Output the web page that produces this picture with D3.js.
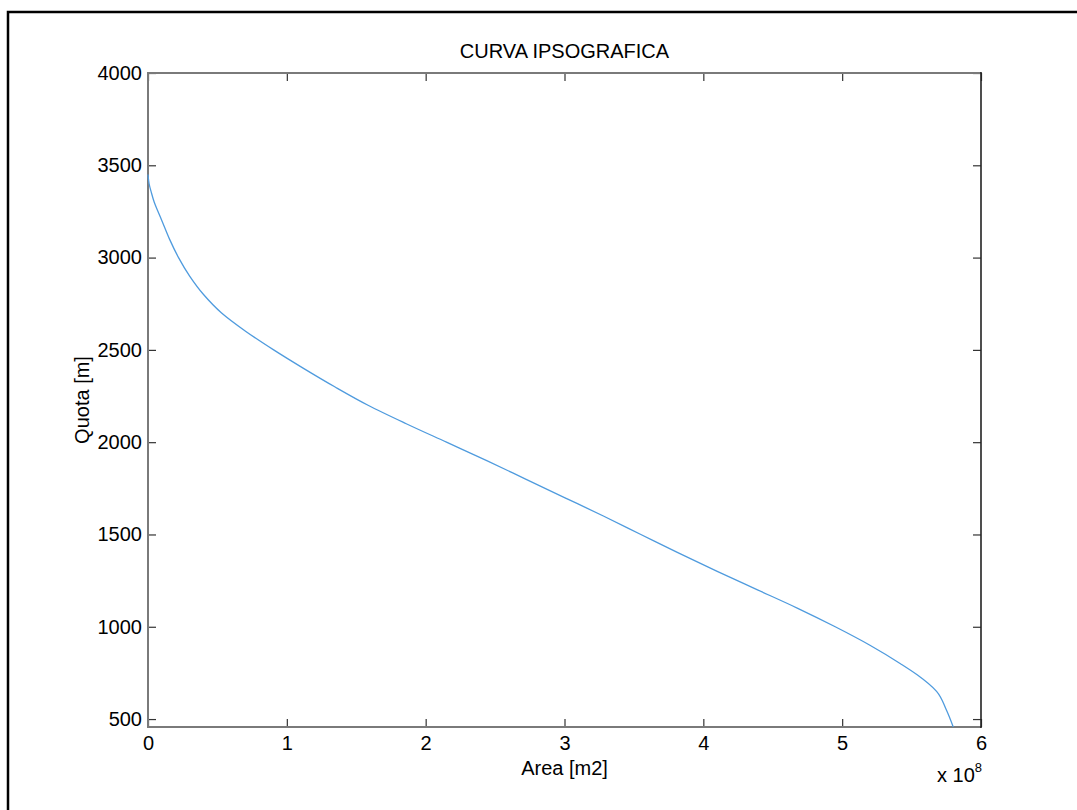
<!DOCTYPE html>
<html>
<head>
<meta charset="utf-8">
<script src="https://cdn.jsdelivr.net/npm/d3@7"></script>
<style>
  html, body { margin: 0; padding: 0; background: #fff; overflow: hidden; }
  svg { display: block; font-family: "Liberation Sans", Arial, sans-serif; }
</style>
</head>
<body>
<svg id="canvas"></svg>
<script>
// hypsographic curve: elevation [m] vs cumulative area above it [m2]
const quota = [3450, 3400, 3350, 3300, 3250, 3200, 3100, 3000, 2900, 2800, 2700,
  2600, 2500, 2400, 2300, 2200, 2100, 2000, 1900, 1800, 1700, 1600, 1500, 1400,
  1300, 1200, 1100, 1000, 900, 800, 740, 650, 550, 457];
const area = [0, 0.008e8, 0.025e8, 0.045e8, 0.072e8, 0.10e8, 0.155e8, 0.22e8, 0.30e8,
  0.40e8, 0.53e8, 0.705e8, 0.905e8, 1.12e8, 1.345e8, 1.585e8, 1.86e8, 2.15e8, 2.44e8,
  2.72e8, 3.0e8, 3.28e8, 3.55e8, 3.82e8, 4.1e8, 4.39e8, 4.68e8, 4.95e8, 5.2e8,
  5.42e8, 5.54e8, 5.68e8, 5.75e8, 5.80e8];

const xTicks = [0, 1e8, 2e8, 3e8, 4e8, 5e8, 6e8];
const yTicks = [500, 1000, 1500, 2000, 2500, 3000, 3500, 4000];

const width = 1077;
const height = 810;
const plot = { left: 148, right: 981, top: 73, bottom: 727 };
const fontSize = 20;

const svg = d3.select('#canvas').attr('width', width).attr('height', height);

// figure frame (left and top edges)
svg.append('path')
  .attr('d', `M8,${height}V12H${width}`)
  .attr('fill', 'none').attr('stroke', '#000').attr('stroke-width', 2.5);

const x = d3.scaleLinear().domain([0, 6e8]).range([plot.left, plot.right]);
const y = d3.scaleLinear().domain([d3.min(quota), 4000]).range([plot.bottom, plot.top]);

const styleAxis = (g) => {
  g.select('.domain').remove();
  g.selectAll('.tick line').attr('stroke', '#333').attr('stroke-width', 1.2);
  g.selectAll('.tick text').attr('fill', '#000').attr('font-size', fontSize)
    .attr('font-family', '"Liberation Sans", Arial, sans-serif');
};

svg.append('g')
  .attr('transform', `translate(0,${plot.bottom})`)
  .call(d3.axisBottom(x).tickValues(xTicks).tickFormat((d) => d / 1e8)
    .tickSizeInner(-8).tickSizeOuter(0).tickPadding(9))
  .call(styleAxis);

svg.append('g')
  .attr('transform', `translate(0,${plot.top})`)
  .call(d3.axisTop(x).tickValues(xTicks).tickFormat('')
    .tickSizeInner(-8).tickSizeOuter(0))
  .call(styleAxis);

svg.append('g')
  .attr('transform', `translate(${plot.left},0)`)
  .call(d3.axisLeft(y).tickValues(yTicks).tickFormat(d3.format('d'))
    .tickSizeInner(-8).tickSizeOuter(0).tickPadding(6))
  .call(styleAxis);

svg.append('g')
  .attr('transform', `translate(${plot.right},0)`)
  .call(d3.axisRight(y).tickValues(yTicks).tickFormat('')
    .tickSizeInner(-8).tickSizeOuter(0))
  .call(styleAxis);

// axes box
svg.append('path')
  .attr('d', `M${plot.right},${plot.top}H${plot.left}V${plot.bottom}H${plot.right}`)
  .attr('fill', 'none').attr('stroke', '#7a7a7a').attr('stroke-width', 2);
svg.append('line')
  .attr('x1', plot.right).attr('x2', plot.right)
  .attr('y1', plot.top - 1).attr('y2', plot.bottom + 1)
  .attr('stroke', '#222').attr('stroke-width', 1.6);

// curve
const line = d3.line()
  .x((d, i) => x(area[i]))
  .y((d) => y(d))
  .curve(d3.curveMonotoneY);

svg.append('path')
  .datum(quota)
  .attr('d', line)
  .attr('fill', 'none')
  .attr('stroke', '#4f9bde')
  .attr('stroke-width', 1.3);

// labels
svg.append('text')
  .attr('x', (plot.left + plot.right) / 2).attr('y', 58)
  .attr('text-anchor', 'middle').attr('font-size', fontSize)
  .text('CURVA IPSOGRAFICA');

svg.append('text')
  .attr('x', (plot.left + plot.right) / 2).attr('y', 775)
  .attr('text-anchor', 'middle').attr('font-size', fontSize)
  .text('Area [m2]');

svg.append('text')
  .attr('transform', `translate(89,${(plot.top + plot.bottom) / 2}) rotate(-90)`)
  .attr('text-anchor', 'middle').attr('font-size', fontSize)
  .text('Quota [m]');

const exp = svg.append('text')
  .attr('x', 937).attr('y', 782).attr('font-size', fontSize);
exp.append('tspan').text('x 10');
exp.append('tspan').attr('font-size', 13).attr('dy', -10).text('8');
</script>
</body>
</html>
